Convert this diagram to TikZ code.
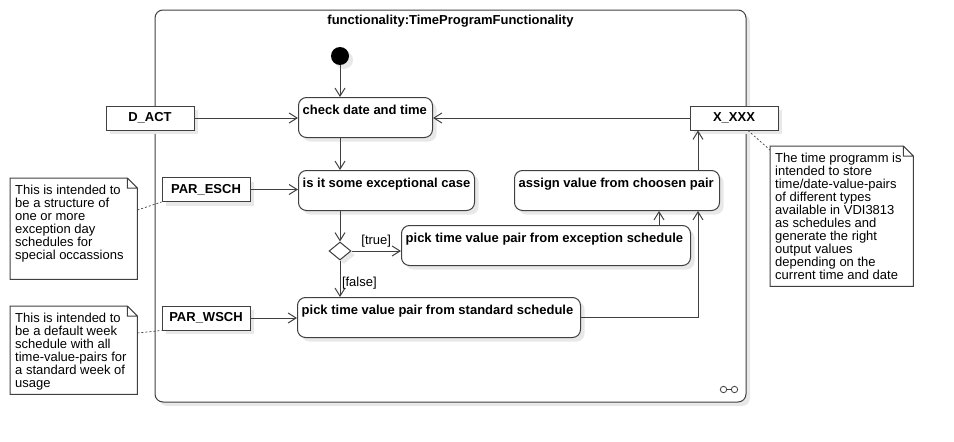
\documentclass[tikz,border=0pt]{standalone}
\usepackage{fontspec}
\setmainfont{Liberation Sans}
\usetikzlibrary{arrows.meta,positioning,shapes.geometric,shadows}

\newcommand{\diagfont}{\fontsize{13pt}{13pt}\selectfont}

\tikzset{
  wire/.style={draw=black!75, line width=1pt},
  flow/.style={wire, -{Straight Barb[length=8pt, width=10pt]}},
  noteline/.style={draw=black!75, line width=0.7pt, dash pattern=on 2pt off 2pt},
  softshadow/.style={drop shadow={shadow xshift=4pt, shadow yshift=-4pt, fill=black!9, opacity=1}},
  actframe/.style={wire, fill=white, rounded corners=8pt, minimum width=591pt, minimum height=392pt, softshadow},
  actbox/.style={wire, fill=white, rounded corners=8pt, anchor=north west, minimum width=#1,
    minimum height=40pt, inner sep=0pt, softshadow},
  actlabel/.style={anchor=north west, label distance=0pt, font=\diagfont\bfseries,
    inner xsep=4.5pt, inner ysep=8pt, text height=9.5pt, text depth=2.5pt},
  objpin/.style={wire, fill=white, font=\diagfont\bfseries, minimum width=88pt, minimum height=24pt, inner sep=0pt, softshadow},
  startdot/.style={circle, fill=black, minimum size=18pt, inner sep=0pt, softshadow},
  decision/.style={diamond, wire, fill=white, minimum width=22pt, minimum height=18pt, inner sep=0pt, softshadow},
  notebox/.style={anchor=north west, inner xsep=5pt, inner ysep=7pt},
  guard/.style={inner sep=1.5pt}
}

\begin{document}
\begin{tikzpicture}[x=1pt, y=-1pt, font=\diagfont]
  \useasboundingbox (0,0) rectangle (954,442);

  \node[actframe] (frame) at (450.5,206) {};
  \node[font=\diagfont\bfseries, below=2pt of frame.north] (title) {functionality:TimeProgramFunctionality};

  % actions
  \node[startdot] (start) at (340,56) {};
  \node[actbox=134pt, label={[actlabel]north west:check date and time}] (check) at (298,97) {};
  \node[actbox=176pt, label={[actlabel]north west:is it some exceptional case}] (isit) at (298,170) {};
  \node[decision] (branch) at (340,251) {};
  \node[actbox=289pt, label={[actlabel]north west:pick time value pair from exception schedule}] (exc) at (401,225) {};
  \node[actbox=283pt, label={[actlabel]north west:pick time value pair from standard schedule}] (std) at (297,297) {};
  \node[actbox=205pt, label={[actlabel]north west:assign value from choosen pair}] (assign) at (514,170) {};

  % pins
  \node[objpin] (dact) at (150,118) {D\_ACT};
  \node[objpin] (parEsch) at (206,189.5) {PAR\_ESCH};
  \node[objpin] (parWsch) at (206,318) {PAR\_WSCH};
  \node[objpin] (xxx) at (734,118) {X\_XXX};

  % notes
  \node[notebox] (noteEsch) at (10,178) {\parbox[t][87pt][t]{117pt}{This is intended to\\be a structure of\\one or more\\exception day\\schedules for\\special occassions}};
  \node[notebox] (noteWsch) at (10,306) {\parbox[t][74pt][t]{117pt}{This is intended to\\be a default week\\schedule with all\\time-value-pairs for\\a standard week of\\usage}};
  \node[notebox] (noteXxx) at (770,146) {\parbox[t][126pt][t]{133pt}{The time programm is\\intended to store\\time/date-value-pairs\\of different types\\available in VDI3813\\as schedules and\\generate the right\\output values\\depending on the\\current time and date}};
  \foreach \n in {noteEsch, noteWsch, noteXxx}
    \draw[wire] (\n.north west) -- ([xshift=-10pt]\n.north east) -- ([yshift=-10pt]\n.north east)
      -- (\n.south east) -- (\n.south west) -- cycle
      ([xshift=-10pt]\n.north east) |- ([yshift=-10pt]\n.north east);

  % control flow
  \draw[flow] (start) -- (start |- check.north);
  \draw[flow] (start |- check.south) -- (start |- isit.north);
  \draw[flow] (branch |- isit.south) -- (branch.north);
  \draw[flow] (branch.east) -- (branch.east -| exc.west) node[midway, above, guard, yshift=2pt]{[true]};
  \draw[flow] (branch.south) -- (branch.south |- std.north) node[pos=0.62, right, guard]{[false]};
  \coordinate (excUp) at ([xshift=-32pt]exc.north east);
  \draw[flow] (excUp) -- (excUp |- assign.south);
  \coordinate (asgUp) at ([xshift=-22pt]assign.south east);
  \draw[flow] (std.east) -| (asgUp);
  \draw[flow] (asgUp |- assign.north) -- (asgUp |- xxx.south);

  % object flow
  \draw[flow] (dact) -- (dact -| check.west);
  \draw[flow] (parEsch) -- (parEsch -| isit.west);
  \draw[flow] (parWsch) -- (parWsch -| std.west);
  \draw[flow] (xxx) -- (xxx -| check.east);

  % note anchors
  \draw[noteline] ([yshift=-32pt]noteEsch.north east) -- (parEsch.south west);
  \draw[noteline] ([yshift=-27pt]noteWsch.north east) -- (parWsch.south west);
  \draw[noteline] ([xshift=14pt]xxx.south) -- ([yshift=-4pt]noteXxx.north west);

  % structured activity icon
  \coordinate (iconL) at ([shift={(-23,-13)}]frame.south east);
  \coordinate (iconR) at ([shift={(-12,-13)}]frame.south east);
  \draw[wire, line width=0.8pt] (iconL) circle[radius=3.2pt] (iconR) circle[radius=3.2pt]
    ([xshift=3.2pt]iconL) -- ([xshift=-3.2pt]iconR);
\end{tikzpicture}
\end{document}
